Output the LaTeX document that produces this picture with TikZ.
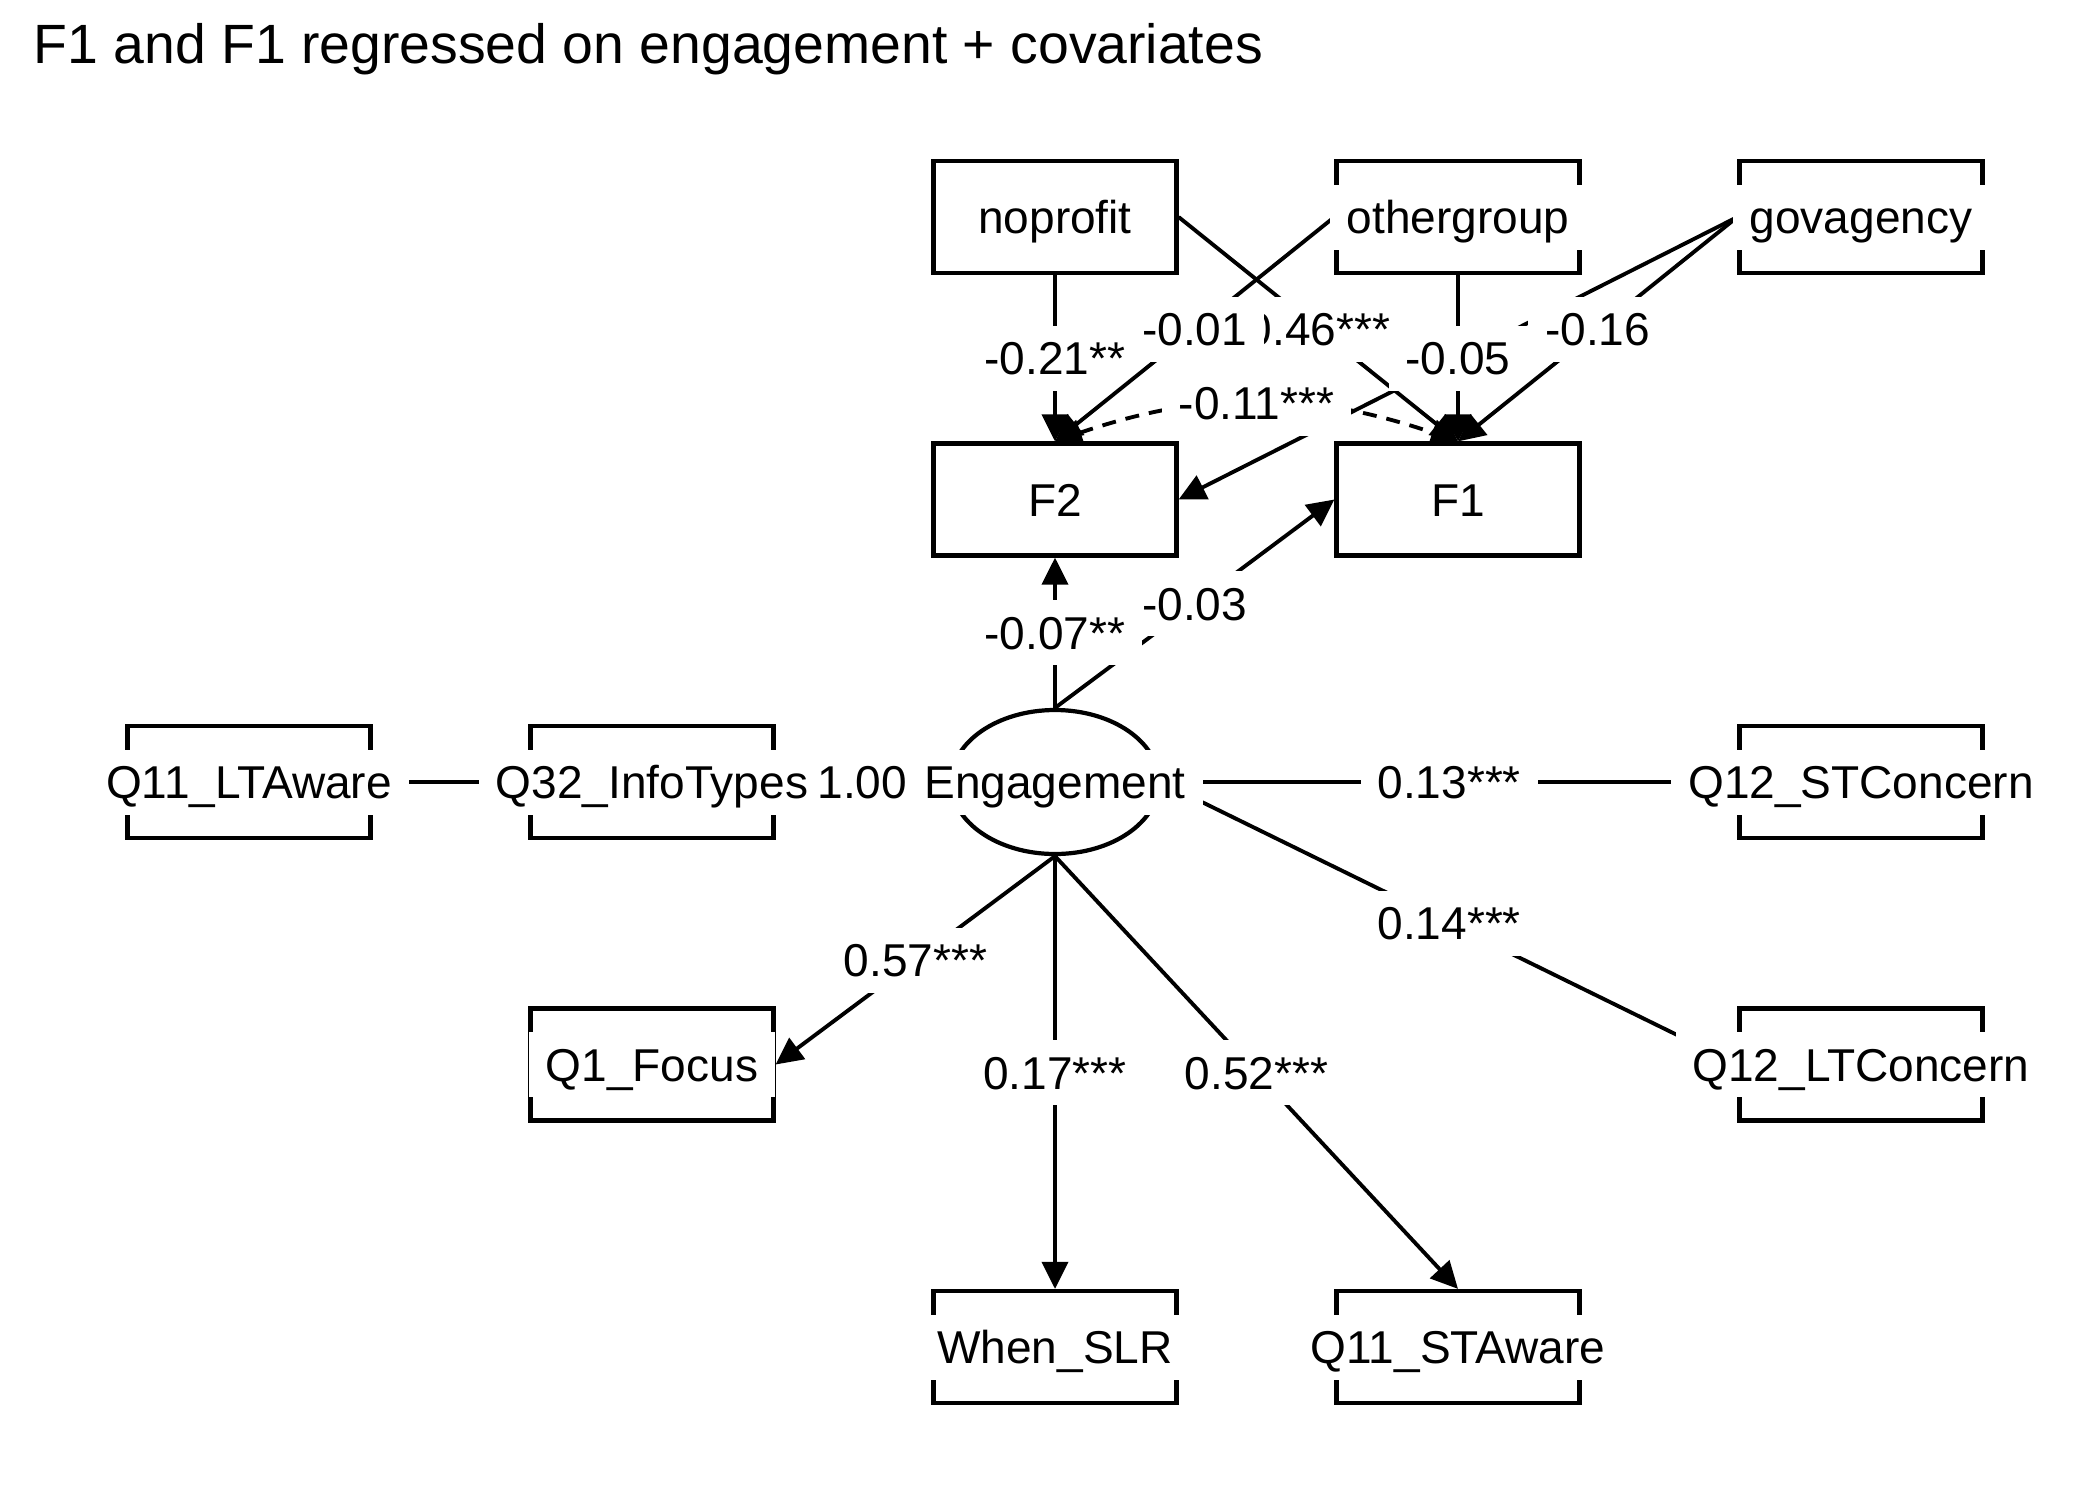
\documentclass[tikz,border=0pt]{standalone}
\usepackage{fontspec}
\setmainfont{Liberation Sans}
\usetikzlibrary{positioning, arrows.meta, shapes.geometric, backgrounds}

\begin{document}
\begin{tikzpicture}[
  node distance=2.825cm and 4.03cm, on grid,
  every node/.style={font=\fontsize{13.1}{15}\selectfont},
  lbl/.style={fill=white, inner xsep=0.17cm, inner ysep=0.16cm, text height=0.33cm, text depth=0pt},
  manifest/.style={draw, fill=white, line width=1.2pt, minimum width=2.43cm, minimum height=1.12cm, inner sep=0pt},
  latent/.style={draw, ellipse, fill=white, line width=1.2pt, minimum width=2.08cm, minimum height=1.44cm, inner sep=0pt},
  regr/.style={line width=1.1pt, -{Triangle[length=0.27cm, width=0.26cm]}},
  covar/.style={line width=1.1pt, dash pattern=on 0.14cm off 0.1cm,
    {Triangle[length=0.27cm, width=0.26cm]}-{Triangle[length=0.27cm, width=0.26cm]}}
]
  \useasboundingbox (0,0) rectangle (21,-15);

  \node[anchor=base west, inner sep=0pt, font=\fontsize{15.75}{18}\selectfont] (title) at (0.33,-0.63)
    {F1 and F1 regressed on engagement + covariates};

  % latent and the two outcomes
  \node[latent, label={[lbl]center:Engagement}] (eng) at (10.55,-7.82) {};
  \node[manifest, above=of eng, label={[lbl]center:F2}] (F2) {};
  \node[manifest, right=of F2, label={[lbl]center:F1}] (F1) {};

  % covariates
  \node[manifest, above=of F2, label={[lbl]center:noprofit}] (noprofit) {};
  \node[manifest, right=of noprofit, label={[lbl]center:othergroup}] (othergroup) {};
  \node[manifest, right=of othergroup, label={[lbl]center:govagency}] (govagency) {};

  % indicators
  \node[manifest, left=of eng, label={[lbl]center:Q32\_InfoTypes}] (infotypes) {};
  \node[manifest, left=of infotypes, label={[lbl]center:Q11\_LTAware}] (ltaware) {};
  \node[manifest, below=of infotypes, label={[lbl]center:Q1\_Focus}] (focus) {};
  \node[manifest, right=8.06cm of eng, label={[lbl]center:Q12\_STConcern}] (stconcern) {};
  \node[manifest, below=of stconcern, label={[lbl]center:Q12\_LTConcern}] (ltconcern) {};
  \node[manifest, below=5.65cm of eng, label={[lbl]center:When\_SLR}] (whenslr) {};
  \node[manifest, right=of whenslr, label={[lbl]center:Q11\_STAware}] (staware) {};

  \begin{scope}[on background layer]
    % regressions on F1 and F2
    \draw[regr] (eng.north) -- node[lbl] {-0.03} (F1.west);
    \draw[regr] (eng.north) -- node[lbl] {-0.07**} (F2.south);
    \draw[regr] (noprofit.south) -- node[lbl] {-0.21**} (F2.north);
    \draw[regr] (noprofit.east) -- node[lbl] {0.46***} (F1.north);
    \draw[regr] (othergroup.west) -- node[lbl] {-0.01} (F2.north);
    \draw[regr] (govagency.west) -- (F2.east);
    \draw[regr] (othergroup.south) -- node[lbl] {-0.05} (F1.north);
    \draw[regr] (govagency.west) -- node[lbl] {-0.16} (F1.north);
    \draw[covar] (F2.north) to[bend left=19] node[lbl] {-0.11***} (F1.north);

    % loadings
    \draw[regr] (eng.west) -- (ltaware.east);
    \draw[regr] (eng.west) -- (infotypes.east);
    \draw[regr] (eng.east) -- node[lbl] {0.13***} (stconcern.west);
    \draw[regr] (eng.east) -- node[lbl] {0.14***} (ltconcern.west);
    \draw[regr] (eng.south) -- node[lbl] {0.57***} (focus.east);
    \draw[regr] (eng.south) -- node[lbl] {0.17***} (whenslr.north);
    \draw[regr] (eng.south) -- node[lbl] {0.52***} (staware.north);
  \end{scope}
  % this one sits on top of the node labels
  \path (eng.west) -- node[lbl, inner xsep=0.05cm] {1.00} (infotypes.east);
\end{tikzpicture}
\end{document}
